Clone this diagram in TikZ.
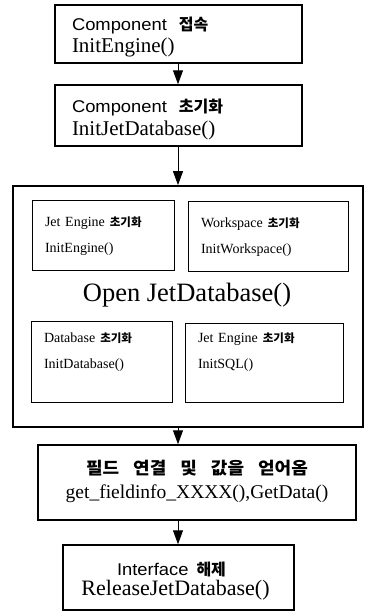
\documentclass[tikz,border=0pt]{standalone}
\usepackage{fontspec}
\setmainfont{Liberation Serif}
\newfontfamily\sansw[FakeStretch=1.08]{Liberation Sans}
\newfontfamily\kr{Noto Sans CJK KR}
\newfontfamily\krw[FakeStretch=1.06]{Noto Sans CJK KR}
\usetikzlibrary{arrows.meta}
\newcommand\sansl[1]{{\sansw\fontsize{17}{21}\selectfont #1}}
\newcommand\krl[1]{{\kr\bfseries\fontsize{16}{21}\selectfont #1}}
\newcommand\krs[1]{{\kr\bfseries\fontsize{11.5}{26}\selectfont #1}}
\newcommand\kgap{\hspace{14pt}}

\begin{document}
\begin{tikzpicture}[x=1pt,y=-1pt,
  mainbox/.style={draw,line width=1.5pt,inner ysep=0pt,inner xsep=17pt,align=left,
    font=\fontsize{21}{22}\selectfont},
  subbox/.style={draw,line width=1pt,inner ysep=0pt,inner xsep=13pt,align=left,
    font=\fontsize{14}{26}\selectfont},
  flow/.style={-{Triangle[length=14pt,width=10pt]},line width=1pt}]
  \useasboundingbox (0,0) rectangle (368,613);
  \coordinate (ax) at (178,0);

  \node[mainbox,text width=213pt,minimum height=58pt,text height=18pt,text depth=26pt]
    (connect) at (178.5,34)
    {\sansl{Component}\hspace{12pt}\krl{접속}\\InitEngine()};
  \node[mainbox,text width=213pt,minimum height=61pt,text height=20pt,text depth=27pt,
    font=\fontsize{21}{23}\selectfont] (init) at (178.5,115.5)
    {\sansl{Component}\hspace{12pt}\krl{초기화}\\InitJetDatabase()};

  \node[draw,line width=1.8pt,minimum width=350pt,minimum height=241pt] (open) at (188,306.5) {};
  \node[font=\fontsize{26.5}{26.5}\selectfont] (opentxt) at (187,295) {Open JetDatabase()};
  \node[subbox,text width=116pt,minimum height=70pt,text height=11pt,text depth=29pt]
    (engine) at (103,235)
    {Jet Engine\hspace{5pt}\krs{초기화}\\InitEngine()};
  \node[subbox,text width=134pt,minimum height=70pt,text height=11pt,text depth=29pt]
    (wspace) at (268,236)
    {Workspace\hspace{5pt}\krs{초기화}\\InitWorkspace()};
  \node[subbox,text width=115pt,minimum height=81pt,text height=0pt,text depth=39pt]
    (dbase) at (101.5,361.5)
    {Database\hspace{5pt}\krs{초기화}\\InitDatabase()};
  \node[subbox,text width=132pt,minimum height=79pt,text height=0pt,text depth=41pt]
    (sql) at (264,362.5)
    {Jet Engine\hspace{5pt}\krs{초기화}\\InitSQL()};

  \node[mainbox,align=center,text width=284pt,minimum height=75pt,text height=12pt,
    text depth=29pt,font=\fontsize{19.5}{24}\selectfont] (field) at (197,482.5)
    {{\krw\bfseries\fontsize{17}{24}\selectfont 필드\kgap 연결\kgap 및\kgap 값을\kgap 얻어옴}\\get\_fieldinfo\_XXXX(),GetData()};
  \node[mainbox,align=center,text width=197pt,minimum height=65pt,text height=19.5pt,
    text depth=24.5pt,font=\fontsize{22}{20}\selectfont] (release) at (178.5,577.5)
    {\sansl{Interface}\hspace{8pt}\krl{해제}\makebox[14pt]{}\\ReleaseJetDatabase()\makebox[6pt]{}};

  \draw[flow] (ax |- connect.south) -- (ax |- init.north);
  \draw[flow] (ax |- init.south) -- (ax |- open.north);
  \draw[flow] (ax |- open.south) -- (ax |- field.north);
  \draw[flow] (ax |- field.south) -- (ax |- release.north);
\end{tikzpicture}
\end{document}
